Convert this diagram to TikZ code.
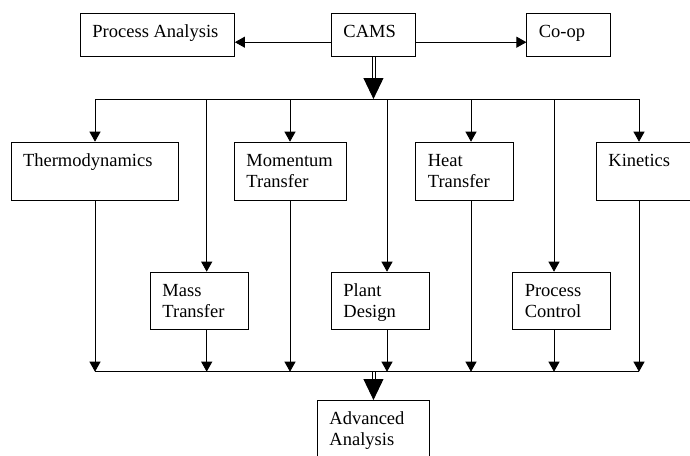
\documentclass[tikz,border=0pt]{standalone}
\usepackage{fontspec}
\setmainfont{Liberation Serif}
\usetikzlibrary{arrows.meta}
\newcommand{\boxText}[3]{\parbox[t][#2][t]{\dimexpr#1-24pt\relax}{\raggedright\rule{0pt}{24pt}#3}}

\begin{document}
\begin{tikzpicture}[x=1pt, y=-1pt]
  \tikzset{blk/.style={draw, line width=0.9pt, inner xsep=12pt, inner ysep=0pt,
      anchor=north west, font=\fontsize{18.5}{21}\selectfont},
    wire/.style={line width=0.9pt},
    arr/.style={wire, -{Triangle[width=11pt,length=10pt]}},
    bigtip/.style={wire, -{Triangle[width=20pt,length=21pt]}}}
  \useasboundingbox (0,0) rectangle (690,455);
  \node[blk] (proc) at (80,12.7) {\boxText{154pt}{43.3pt}{Process Analysis}};
  \node[blk] (cams) at (331,12.7) {\boxText{84pt}{43.3pt}{CAMS}};
  \node[blk] (coop) at (526.4,12.7) {\boxText{84pt}{43.3pt}{Co-op}};
  \node[blk] (thermo) at (10.6,141.7) {\boxText{167.4pt}{58.3pt}{Thermodynamics}};
  \node[blk] (momentum) at (234,141.7) {\boxText{112pt}{58.3pt}{Momentum\\Transfer}};
  \node[blk] (heat) at (415.4,141.7) {\boxText{97.6pt}{58.3pt}{Heat\\Transfer}};
  \node[blk] (kinetics) at (596,141.7) {\boxText{98pt}{58.3pt}{Kinetics}};
  \node[blk] (mass) at (150,271.7) {\boxText{98pt}{57.3pt}{Mass\\Transfer}};
  \node[blk] (plant) at (331,271.7) {\boxText{98pt}{57.3pt}{Plant\\Design}};
  \node[blk] (control) at (512.3,271.7) {\boxText{97.7pt}{57.3pt}{Process\\Control}};
  \node[blk] (advanced) at (317,400) {\boxText{112pt}{58pt}{Advanced\\Analysis}};

  \draw[arr] ([yshift=-7.4pt]cams.west) -- ([yshift=-7.4pt]proc.east);
  \draw[arr] ([yshift=-7.4pt]cams.east) -- ([yshift=-7.4pt]coop.west);

  \foreach \x/\n in {95/1,206.7/2,290/3,387/4,471/5,554/6,639/7} {
    \coordinate (top\n) at (\x,99);
    \coordinate (bot\n) at (\x,371.7);
  }
  \coordinate (hubTop) at (cams.south |- top1);
  \coordinate (hubBot) at (advanced.north |- bot1);
  \foreach \s in {-1.5pt,1.5pt} {
    \draw[wire] ([xshift=\s]cams.south) -- ([xshift=\s,yshift=20pt]hubTop);
    \draw[wire] ([xshift=\s]hubBot) -- ([xshift=\s,yshift=19pt]advanced.north);
  }
  \draw[bigtip] ([yshift=21pt]hubTop) -- (hubTop);
  \draw[bigtip] ([yshift=20pt]advanced.north) -- (advanced.north);

  \draw[wire] (top1) -- (top7);
  \draw[arr] (top1) -- (top1 |- thermo.north);
  \draw[arr] (top2) -- (top2 |- mass.north);
  \draw[arr] (top3) -- (top3 |- momentum.north);
  \draw[arr] (top4) -- (top4 |- plant.north);
  \draw[arr] (top5) -- (top5 |- heat.north);
  \draw[arr] (top6) -- (top6 |- control.north);
  \draw[arr] (top7) -- (top7 |- kinetics.north);

  \draw[arr] (bot1 |- thermo.south) -- (bot1);
  \draw[arr] (bot2 |- mass.south) -- (bot2);
  \draw[arr] (bot3 |- momentum.south) -- (bot3);
  \draw[arr] (bot4 |- plant.south) -- (bot4);
  \draw[arr] (bot5 |- heat.south) -- (bot5);
  \draw[arr] (bot6 |- control.south) -- (bot6);
  \draw[arr] (bot7 |- kinetics.south) -- (bot7);
  \draw[wire] (bot1) -- (bot7);
\end{tikzpicture}
\end{document}
